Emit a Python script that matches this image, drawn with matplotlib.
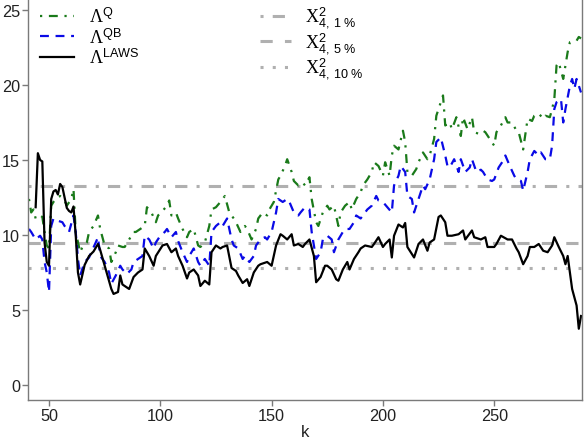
import matplotlib
matplotlib.use('Agg')
import matplotlib.pyplot as plt

plt.rcParams['font.family'] = ['Liberation Sans', 'DejaVu Sans']
plt.rcParams['mathtext.fontset'] = 'custom'
plt.rcParams['mathtext.rm'] = 'Liberation Serif'
plt.rcParams['mathtext.sf'] = 'Liberation Sans'
plt.rcParams['mathtext.it'] = 'Liberation Serif:italic'

# Lambda^Q (green, dot-dash)
k_q = [41, 42, 43, 44, 46, 47, 48, 49, 50, 51, 52, 53, 55, 57, 58, 60, 61, 62, 64, 65,
       67, 68, 70, 72, 73, 75, 77, 78, 80, 81, 83, 84, 86, 88, 89, 91, 93, 94, 96, 98,
       99, 101, 103, 104, 105, 107, 108, 110, 112, 113, 115, 117, 118, 120, 122, 123, 125, 127, 128, 129,
       131, 133, 134, 136, 138, 139, 141, 143, 144, 146, 148, 149, 151, 153, 154, 156, 157, 159, 160, 162,
       164, 165, 167, 168, 170, 171, 173, 175, 176, 178, 180, 181, 183, 185, 186, 188, 190, 191, 193, 195,
       196, 198, 200, 201, 203, 204, 205, 207, 209, 210, 211, 213, 215, 216, 218, 220, 221, 223, 224, 226,
       227, 228, 230, 231, 233, 235, 236, 238, 240, 241, 243, 245, 246, 248, 250, 251, 253, 255, 256, 258,
       260, 261, 263, 265, 267, 268, 270, 272, 273, 275, 276, 277, 278, 279, 281, 282, 283, 284, 287, 288, 289]
q_vals = [12.4, 11.5, 11.7, 11.1, 11.3, 11.2, 10.2, 9.3, 9.1, 11.95, 12.2, 12.4, 12.6, 12.3, 11.95, 12.4, 13.05, 10.2, 8.85, 9.2,
          9.5, 10.2, 10.6, 11.3, 10.4, 9.3, 9.1, 8.2, 8.85, 9.3, 9.2, 9.2, 9.7, 10.2, 10.2, 10.4, 10.6, 11.85, 11.5, 10.85,
          11.3, 11.6, 11.95, 12.3, 11.3, 11.5, 11.1, 10.4, 9.85, 10.2, 10.4, 9.3, 9.2, 9.5, 10.6, 11.7, 11.85, 12.2, 12.4, 12.6,
          11.5, 11.1, 10.85, 10.2, 10.6, 10.4, 9.7, 10.4, 11.1, 11.5, 11.3, 11.7, 12.2, 13.7, 13.95, 14.6, 15.05, 14.2, 13.6, 13.3,
          13.5, 13.3, 13.85, 12.4, 10.85, 10.6, 11.5, 11.95, 11.7, 11.95, 10.6, 11.5, 11.95, 12.2, 11.7, 12.4, 12.85, 13.3, 13.7, 14.2,
          14.85, 14.6, 13.95, 14.85, 13.95, 15.3, 15.95, 15.7, 16.95, 16.2, 14.2, 13.95, 14.4, 14.85, 15.5, 15.05, 15.3, 16.4, 17.95, 18.85,
          19.3, 17.3, 17.5, 17.05, 17.85, 16.6, 17.85, 17.05, 17.85, 16.85, 16.75, 16.95, 16.85, 16.4, 15.95, 16.85, 17.3, 17.85, 17.5, 17.5,
          16.95, 16.85, 15.7, 17.75, 17.6, 17.95, 18.1, 17.75, 17.95, 17.85, 18.4, 19.05, 21.3, 21.5, 20.4, 21.3, 22.2, 22.85, 22.95, 23.2, 23.1]

# Lambda^QB (blue, dashed)
k_qb = [41, 42, 44, 46, 47, 48, 49, 50, 51, 52, 54, 56, 57, 59, 61, 62, 63, 64, 66, 68,
        69, 71, 72, 73, 75, 77, 78, 80, 82, 83, 85, 87, 88, 90, 92, 93, 95, 97, 98, 100,
        102, 103, 105, 107, 108, 110, 112, 113, 115, 117, 118, 120, 122, 123, 125, 127, 128, 130, 132, 133,
        135, 137, 138, 140, 142, 143, 145, 147, 148, 150, 152, 153, 155, 157, 158, 160, 162, 163, 165, 167,
        168, 170, 172, 173, 175, 177, 178, 180, 182, 183, 185, 187, 188, 190, 192, 193, 195, 197, 198, 200,
        202, 204, 205, 207, 208, 210, 211, 213, 214, 216, 218, 219, 221, 223, 224, 226, 228, 229, 230, 232,
        234, 235, 237, 239, 240, 242, 244, 245, 247, 249, 250, 252, 254, 255, 257, 259, 260, 262, 263, 265,
        266, 268, 270, 271, 273, 275, 276, 277, 278, 280, 281, 282, 284, 285, 286, 287, 289]
qb_vals = [10.4, 10.2, 9.7, 9.95, 9.7, 8.2, 7.5, 6.2, 10.6, 11.1, 10.95, 10.85, 10.6, 10.2, 11.3, 10.2, 8.4, 7.3, 8.2, 8.5,
           8.85, 9.5, 9.85, 8.6, 8.2, 7.5, 6.75, 7.3, 7.95, 7.7, 7.4, 7.7, 8.2, 8.4, 8.6, 9.95, 9.7, 9.1, 9.5, 9.95,
           10.2, 10.4, 9.85, 10.2, 9.6, 8.85, 8.2, 8.6, 9.1, 8.2, 7.95, 8.4, 7.95, 10.2, 10.6, 10.85, 10.6, 11.1, 9.7, 9.3,
           9.1, 8.4, 8.6, 8.2, 8.6, 9.3, 9.7, 9.85, 9.7, 10.2, 11.5, 12.4, 12.2, 12.4, 12.2, 11.5, 11.3, 11.5, 11.85, 11.7,
           10.2, 8.4, 8.85, 9.7, 9.95, 9.7, 8.85, 9.7, 10.2, 10.4, 10.4, 10.85, 11.3, 11.1, 11.5, 11.7, 11.95, 12.6, 12.3, 12.2,
           11.85, 11.5, 13.3, 13.95, 14.6, 14.2, 12.6, 12.4, 11.5, 12.4, 13.3, 13.05, 13.7, 15.05, 16.2, 16.5, 15.3, 14.6, 14.5, 15.05,
           14.2, 15.05, 14.2, 14.5, 15.05, 14.2, 14.35, 14.2, 13.7, 13.6, 13.7, 14.5, 14.95, 15.3, 14.6, 13.95, 13.7, 13.6, 12.95, 14.2,
           15.05, 15.6, 15.3, 15.5, 15.05, 15.05, 15.95, 18.4, 18.85, 19.05, 17.5, 18.4, 19.95, 20.4, 19.75, 20.4, 19.5]

# Lambda^LAWS (black, solid)
k_laws = [44, 45, 46, 47, 48, 49, 50, 51, 52, 53, 54, 55, 56, 57, 58, 59, 60, 61, 62, 63,
          64, 66, 68, 70, 72, 73, 75, 77, 78, 79, 81, 82, 83, 86, 88, 90, 92, 93, 95, 97,
          98, 101, 103, 105, 107, 108, 110, 112, 113, 115, 117, 118, 120, 122, 123, 125, 127, 128, 130, 132,
          134, 135, 137, 139, 140, 142, 144, 145, 148, 150, 152, 154, 155, 157, 159, 160, 162, 164, 165, 167,
          169, 170, 172, 174, 175, 177, 179, 180, 182, 184, 185, 187, 189, 190, 192, 195, 196, 198, 200, 201,
          203, 204, 205, 207, 209, 210, 211, 214, 216, 218, 220, 221, 223, 225, 226, 228, 229, 231, 234, 236,
          237, 240, 241, 244, 246, 247, 250, 251, 253, 256, 258, 260, 261, 263, 265, 266, 268, 270, 272, 274,
          276, 277, 279, 281, 282, 283, 285, 287, 288, 289]
laws_vals = [11.85, 15.45, 15.0, 14.9, 9.5, 8.2, 7.95, 12.4, 12.9, 13.0, 12.7, 13.4, 13.2, 12.5, 11.8, 11.6, 11.5, 11.9, 10.0, 7.5,
             6.7, 8.0, 8.6, 8.9, 9.4, 9.0, 7.95, 6.9, 6.4, 6.07, 6.2, 7.3, 6.7, 6.4, 7.2, 7.5, 7.7, 9.1, 8.6, 7.95,
             8.6, 9.3, 9.4, 8.85, 9.1, 8.6, 7.95, 7.1, 7.5, 7.7, 7.3, 6.6, 6.95, 6.7, 8.85, 9.3, 9.1, 9.2, 9.3, 7.8,
             7.6, 7.3, 6.8, 7.05, 6.6, 7.5, 7.95, 8.05, 8.2, 7.95, 9.3, 10.05, 9.95, 9.7, 10.05, 9.3, 9.4, 9.2, 9.4, 9.7,
             8.6, 6.85, 7.2, 7.95, 7.95, 7.7, 7.05, 6.95, 7.7, 8.2, 7.7, 8.4, 8.85, 9.1, 9.3, 9.2, 9.4, 9.85, 9.2, 9.4,
             9.7, 8.5, 9.95, 10.7, 10.5, 10.8, 9.2, 8.5, 9.4, 9.7, 8.95, 9.5, 9.7, 11.2, 11.3, 10.85, 9.95, 9.95, 10.05, 10.3,
             9.7, 10.3, 9.85, 9.7, 9.85, 9.2, 9.2, 9.4, 9.95, 9.7, 9.7, 9.1, 8.85, 8.05, 8.6, 9.2, 9.2, 9.4, 8.95, 8.85,
             9.3, 9.85, 9.2, 8.6, 8.05, 8.6, 6.4, 5.3, 3.75, 4.6]

# chi-square(4) critical values
chi_levels = [13.28, 9.49, 7.78]
chi_labels = [r'$\mathrm{X}^{\mathsf{2}}_{\mathsf{4,\ 1\ \%}}$',
              r'$\mathrm{X}^{\mathsf{2}}_{\mathsf{4,\ 5\ \%}}$',
              r'$\mathrm{X}^{\mathsf{2}}_{\mathsf{4,\ 10\ \%}}$']
chi_dashes = [(1, 3, 4, 3), (4, 4), (1, 3)]

W, H = 584, 439
fig = plt.figure(figsize=(W / 100, H / 100), dpi=100)
ax = fig.add_axes([28.3 / W, 1 - 400.7 / H, (581.7 - 28.3) / W, 400.7 / H])

gray = '#b0b0b0'
chi_lines = []
for lev, lab, d in zip(chi_levels, chi_labels, chi_dashes):
    ln, = ax.plot([40.7, 289.3], [lev, lev], color=gray, lw=2.2, dashes=d, label=lab)
    chi_lines.append(ln)

l1, = ax.plot(k_q, q_vals, color='#1a7a1a', lw=1.6, dashes=(1, 3, 4, 3),
              label=r'$\Lambda^{\mathsf{Q}}$')
l2, = ax.plot(k_qb, qb_vals, color='#0a0ae6', lw=1.6, dashes=(4, 3),
              label=r'$\Lambda^{\mathsf{QB}}$')
l3, = ax.plot(k_laws, laws_vals, color='black', lw=1.6,
              label=r'$\Lambda^{\mathsf{LAWS}}$')

ax.set_xlim(40.7, 289.3)
ax.set_ylim(-0.98, 25.73)
ax.set_xticks([50, 100, 150, 200, 250])
ax.set_yticks([0, 5, 10, 15, 20, 25])
ax.spines['top'].set_visible(False)
for s in ['left', 'bottom', 'right']:
    ax.spines[s].set_color('#7a7a7a')
    ax.spines[s].set_linewidth(1.0)
ax.tick_params(length=4, width=1, color='#7a7a7a', labelsize=11.7, labelcolor='#222222', pad=2)
ax.set_xlabel('k', fontsize=12, color='#222222', labelpad=1)

leg1 = ax.legend(handles=[l1, l2, l3], loc='upper left', bbox_to_anchor=(0.022, 0.98),
                 frameon=False, fontsize=13, handlelength=1.85, handletextpad=0.85,
                 labelspacing=0.05, borderpad=0, borderaxespad=0)
ax.add_artist(leg1)
ax.legend(handles=chi_lines, loc='upper left', bbox_to_anchor=(0.418, 0.985),
          frameon=False, fontsize=13, handlelength=1.75, handletextpad=0.75,
          labelspacing=0.0, borderpad=0, borderaxespad=0)

fig.savefig('out.png', dpi=100)
